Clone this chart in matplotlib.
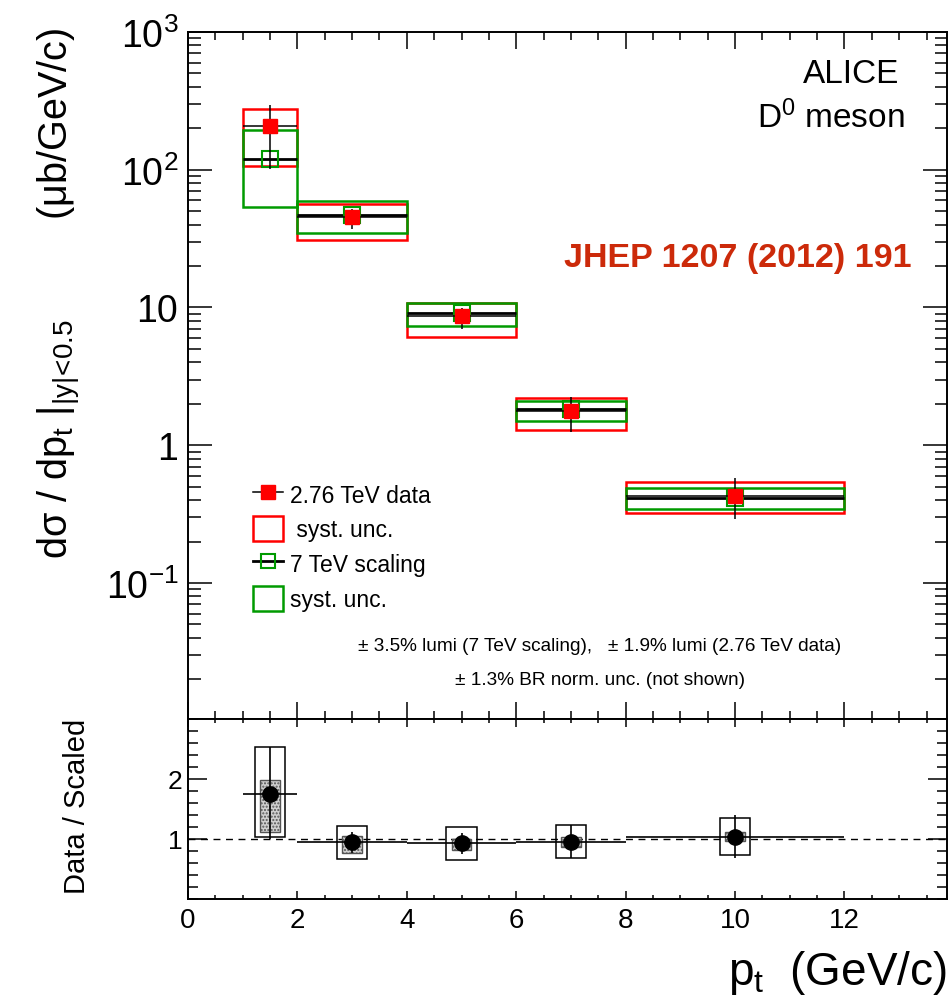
import matplotlib
matplotlib.use('Agg')
import matplotlib.pyplot as plt
from matplotlib.patches import Rectangle
from matplotlib.lines import Line2D
from matplotlib.ticker import FixedLocator, MultipleLocator, LogLocator, FuncFormatter, NullFormatter

plt.rcParams['font.family'] = ['Liberation Sans', 'DejaVu Sans']
plt.rcParams['mathtext.fontset'] = 'custom'
plt.rcParams['mathtext.rm'] = 'Liberation Sans'
plt.rcParams['mathtext.it'] = 'Liberation Sans:italic'
plt.rcParams['mathtext.default'] = 'regular'
plt.rcParams['hatch.linewidth'] = 1.0

# pt bins (GeV/c)
bin_lo = [1, 2, 4, 6, 8]
bin_hi = [2, 4, 6, 8, 12]
pt = [1.5, 3, 5, 7, 10]

# 2.76 TeV data (ub/GeV/c)
data = [208, 45.4, 8.67, 1.76, 0.428]
data_stat_lo = [101, 37.1, 6.98, 1.25, 0.291]
data_stat_hi = [295, 51.9, 9.9, 2.24, 0.578]
data_syst_lo = [106, 30.9, 6.11, 1.29, 0.322]
data_syst_hi = [276, 56.4, 10.8, 2.20, 0.541]

# 7 TeV scaled reference
scaled = [120, 47.0, 9.12, 1.84, 0.415]
scaled_syst_lo = [53.7, 34.7, 7.35, 1.50, 0.345]
scaled_syst_hi = [194, 59.3, 10.8, 2.10, 0.490]

# ratio data / scaled
ratio = [1.75, 0.95, 0.93, 0.95, 1.03]
ratio_stat_lo = [1.00, 0.77, 0.75, 0.68, 0.68]
ratio_stat_hi = [2.53, 1.12, 1.10, 1.23, 1.40]
ratio_out_lo = [1.03, 0.67, 0.65, 0.68, 0.73]
ratio_out_hi = [2.53, 1.22, 1.20, 1.23, 1.35]
ratio_in_lo = [1.12, 0.77, 0.82, 0.87, 0.97]
ratio_in_hi = [1.98, 1.05, 1.00, 1.03, 1.12]

red = '#ff0000'
green = '#009a00'

fig = plt.figure(figsize=(9.52, 10.03), dpi=100)
ax = fig.add_axes([0.1975, 0.2822, 0.797, 0.6849])
axr = fig.add_axes([0.1975, 0.1027, 0.797, 0.1795])

# ---- top panel: cross sections
for i in range(len(pt)):
    ax.add_patch(Rectangle((bin_lo[i], data_syst_lo[i]), bin_hi[i] - bin_lo[i],
                           data_syst_hi[i] - data_syst_lo[i],
                           fill=False, ec=red, lw=1.8, zorder=2))
for i in range(len(pt)):
    ax.add_patch(Rectangle((bin_lo[i], scaled_syst_lo[i]), bin_hi[i] - bin_lo[i],
                           scaled_syst_hi[i] - scaled_syst_lo[i],
                           fill=False, ec=green, lw=1.8, zorder=3))

xerr = [[p - l for p, l in zip(pt, bin_lo)], [h - p for p, h in zip(pt, bin_hi)]]
ax.errorbar(pt, scaled, xerr=xerr, fmt='s', ms=11, mfc='none', mec=green, mew=1.5,
            ecolor='black', elinewidth=2.0, capsize=0, zorder=4)
yerr = [[d - l for d, l in zip(data, data_stat_lo)], [h - d for d, h in zip(data, data_stat_hi)]]
ax.errorbar(pt, data, xerr=xerr, yerr=yerr, fmt='s', ms=10, mfc=red, mec=red,
            ecolor='black', elinewidth=1.1, capsize=0, zorder=5)

ax.set_yscale('log')
ax.set_xlim(0, 13.87)
ax.set_ylim(1.03e-2, 1e3)
ax.yaxis.set_major_locator(FixedLocator([1e-2, 1e-1, 1, 10, 100, 1000]))
ax.yaxis.set_minor_locator(LogLocator(base=10, subs=range(2, 10), numticks=20))
labmap = {1e-1: r'$10^{-1}$', 1: '1', 10: '10', 100: r'$10^{2}$', 1000: r'$10^{3}$'}
ax.yaxis.set_major_formatter(FuncFormatter(lambda v, p: labmap.get(v, '')))
ax.yaxis.set_minor_formatter(NullFormatter())
ax.xaxis.set_major_locator(MultipleLocator(2))
ax.xaxis.set_minor_locator(MultipleLocator(0.5))
ax.set_xticklabels([])
ax.tick_params(which='both', direction='in', top=True, right=True, width=1.1)
ax.tick_params(axis='y', which='major', length=17, labelsize=27, pad=7)
ax.tick_params(axis='y', which='minor', length=9)
ax.tick_params(axis='x', which='major', length=12)
ax.tick_params(axis='x', which='minor', length=6)
for s in ax.spines.values():
    s.set_linewidth(1.4)

# legend
handles = [
    Line2D([], [], color='black', lw=1.1, marker='s', ms=10, mfc=red, mec=red),
    Rectangle((0, 0), 1, 1, fill=False, ec=red, lw=1.8),
    Line2D([], [], color='black', lw=2.0, marker='s', ms=10, mfc='none', mec=green, mew=1.5),
    Rectangle((0, 0), 1, 1, fill=False, ec=green, lw=1.8),
]
labels = ['2.76 TeV data', ' syst. unc.', '7 TeV scaling', 'syst. unc.']
fig.legend(handles, labels, loc='upper left', bbox_to_anchor=(0.266, 0.519),
           bbox_transform=fig.transFigure, frameon=False, fontsize=16.5,
           handlelength=1.31, handleheight=1.3, labelspacing=0.42,
           handletextpad=0.3, borderpad=0, borderaxespad=0)

fig.text(0.945, 0.9172, 'ALICE', ha='right', va='baseline', fontsize=24)
fig.text(0.950, 0.8724, r'D$^{0}$ meson', ha='right', va='baseline', fontsize=24)
fig.text(0.958, 0.734, 'JHEP 1207 (2012) 191', ha='right', va='baseline',
         fontsize=24.5, fontweight='bold', color='#cc2a0a')
fig.text(0.630, 0.351, '± 3.5% lumi (7 TeV scaling),   ± 1.9% lumi (2.76 TeV data)',
         ha='center', va='baseline', fontsize=13.7)
fig.text(0.630, 0.317, '± 1.3% BR norm. unc. (not shown)',
         ha='center', va='baseline', fontsize=13.7)

fig.text(0.063, 0.972,
         r'd$\sigma$ / dp$_{t}$ $|_{|y|\!<\!0.5}$         ($\mu$b/GeV/c)',
         rotation=90, ha='center', va='top', fontsize=28.5)

# ---- bottom panel: ratio
axr.axhline(1, color='black', lw=1.0, ls=(0, (5, 4)), zorder=1)
for i in range(len(pt)):
    axr.add_patch(Rectangle((pt[i] - 0.28, ratio_out_lo[i]), 0.56,
                            ratio_out_hi[i] - ratio_out_lo[i],
                            fill=False, ec='black', lw=1.1, zorder=2))
    axr.add_patch(Rectangle((pt[i] - 0.18, ratio_in_lo[i]), 0.36,
                            ratio_in_hi[i] - ratio_in_lo[i],
                            fc='#d0d0d0', ec='#555555', hatch='.....', lw=1.0, zorder=3))
rerr = [[r - l for r, l in zip(ratio, ratio_stat_lo)], [h - r for r, h in zip(ratio, ratio_stat_hi)]]
axr.errorbar(pt, ratio, xerr=xerr, yerr=rerr, fmt='o', ms=11, color='black',
             elinewidth=1.2, capsize=0, zorder=4)

axr.set_xlim(0, 13.87)
axr.set_ylim(0, 3)
axr.yaxis.set_major_locator(FixedLocator([1, 2]))
axr.yaxis.set_minor_locator(MultipleLocator(0.2))
axr.xaxis.set_major_locator(MultipleLocator(2))
axr.xaxis.set_minor_locator(MultipleLocator(0.5))
axr.tick_params(which='both', direction='in', top=True, right=True, width=1.1)
axr.tick_params(axis='y', which='major', length=14, labelsize=19, pad=4)
axr.tick_params(axis='y', which='minor', length=7)
axr.tick_params(axis='x', which='major', length=6, labelsize=20, pad=6)
axr.tick_params(axis='x', which='minor', length=3)
for s in axr.spines.values():
    s.set_linewidth(1.4)

fig.text(0.081, 0.196, 'Data / Scaled', rotation=90, ha='center', va='center', fontsize=21)
fig.text(0.995, 0.018, r'p$_{t}$  (GeV/c)', ha='right', va='baseline', fontsize=33)

fig.savefig('out.png', dpi=100)
